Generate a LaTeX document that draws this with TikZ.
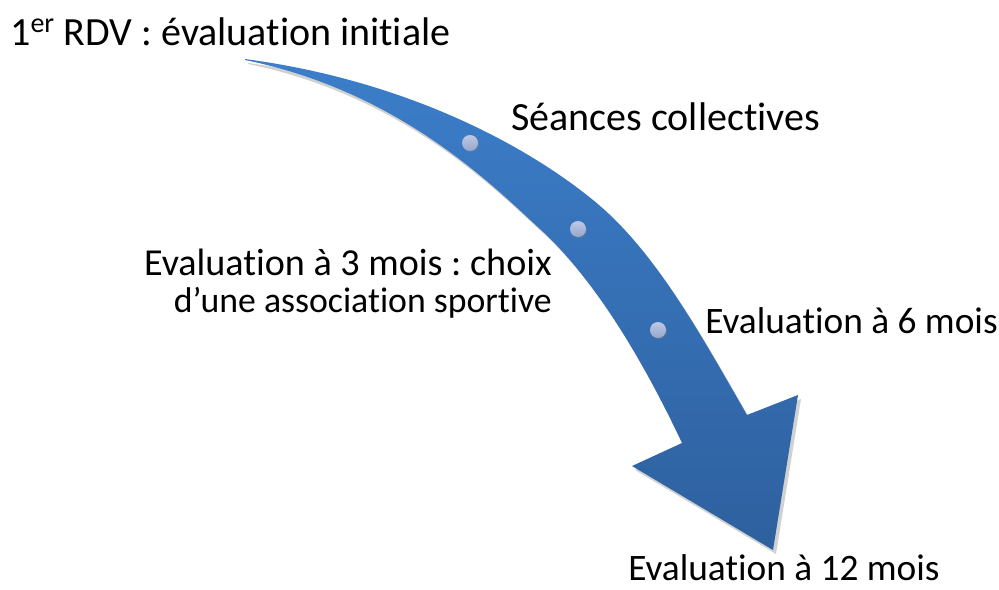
\documentclass[tikz,border=0pt]{standalone}
\usepackage{fontspec}
\setmainfont[Ligatures={NoCommon}]{Carlito}
\usetikzlibrary{shadows}
\definecolor{arrowtop}{RGB}{60,126,202}
\definecolor{arrowbot}{RGB}{46,96,158}
\definecolor{dottop}{RGB}{190,200,228}
\definecolor{dotbot}{RGB}{150,166,204}
\tikzset{
  lbl/.style={inner sep=0pt, text=black},
  dotmark/.style={circle, minimum size=12pt, inner sep=0pt, top color=dottop, bottom color=dotbot, draw=none,
    drop shadow={shadow xshift=0.8pt, shadow yshift=-1pt, opacity=0.35}},
}
\begin{document}
\frenchspacing
\begin{tikzpicture}[x=0.75pt,y=-0.75pt]
\useasboundingbox (0,0) rectangle (999,589);
\def\arrowpath{(245,59) .. controls (403,80) and (523,143) .. (593,200)
  .. controls (655,250) and (702,337) .. (747,415)
  -- (798,395) -- (773,550) -- (632,466) -- (682,443)
  .. controls (648,371) and (599,283) .. (540,229)
  .. controls (496,189) and (402,92) .. (245,60) -- cycle}
\fill[black,opacity=0.18,shift={(3,4)}] \arrowpath;
\shade[top color=arrowtop, bottom color=arrowbot] \arrowpath;
\node[dotmark] (d1) at (470,143) {};
\node[dotmark] (d2) at (578,229) {};
\node[dotmark] (d3) at (658,330) {};
\node[lbl, font=\fontsize{30}{36}\selectfont, anchor=base west] (t0) at (10,45) {1\textsuperscript{er} RDV : évaluation initiale};
\node[lbl, font=\fontsize{30}{36}\selectfont, anchor=base west] (t1) at (511,130) {Séances collectives};
\node[lbl, font=\fontsize{28.6}{34}\selectfont, anchor=base east] (t2a) at (552,275) {Evaluation à 3 mois : choix};
\node[lbl, font=\fontsize{26.8}{34}\selectfont, anchor=base east] (t2b) at (552,312) {d’une association sportive};
\node[lbl, font=\fontsize{28}{34}\selectfont, anchor=base west] (t3) at (705,333) {Evaluation à 6 mois};
\node[lbl, font=\fontsize{28}{34}\selectfont, anchor=base west] (t4) at (628,580) {Evaluation à 12 mois};
\end{tikzpicture}
\end{document}
